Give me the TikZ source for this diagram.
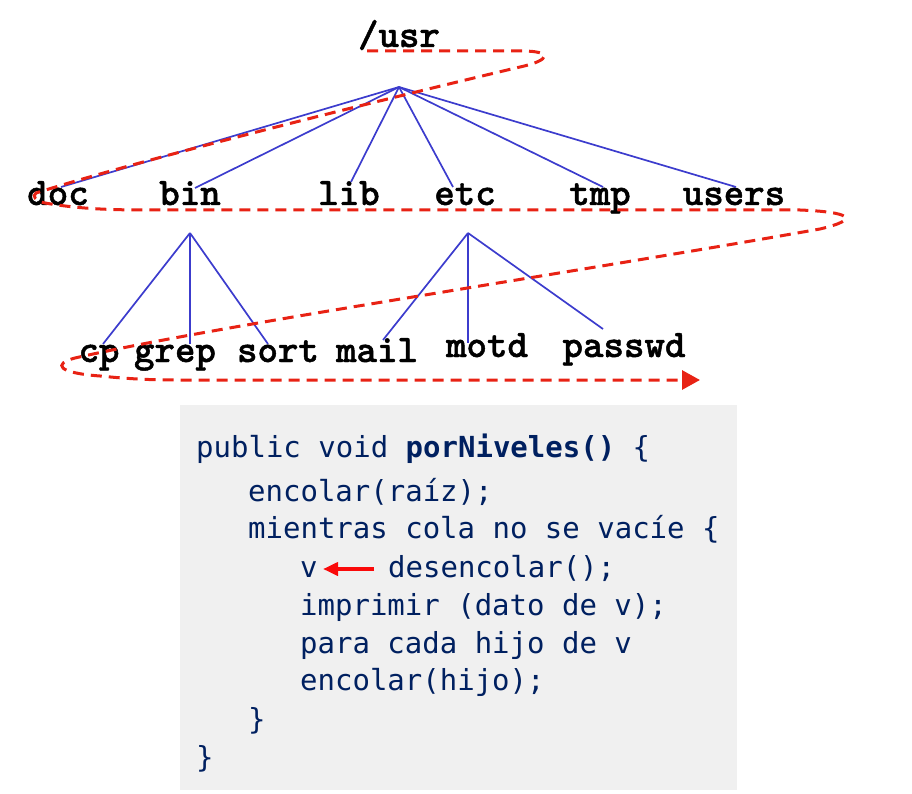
\documentclass[tikz,border=0pt]{standalone}
\usepackage{fontspec}
\newfontfamily\codefont{DejaVu Sans Mono}
\newfontfamily\treefont{lmmonolt10-bold.otf}[FakeBold=1.2]
\usetikzlibrary{arrows.meta}
\definecolor{treeblue}{RGB}{60,60,205}
\definecolor{pathred}{RGB}{232,34,20}
\definecolor{codeblue}{RGB}{0,32,96}
\definecolor{codebg}{RGB}{240,240,240}
\definecolor{arrred}{RGB}{250,10,10}
\begin{document}
\begin{tikzpicture}[x=1pt,y=-1pt,
  lbl/.style={anchor=base, inner sep=0pt, font=\fontsize{39}{39}\treefont},
  code/.style={anchor=base west, inner sep=0pt, text=codeblue, font=\fontsize{29}{29}\codefont},
  edge/.style={treeblue, line width=1.7pt},
  trav/.style={pathred, line width=3pt, dash pattern=on 11pt off 7pt},
  codearrow/.style={arrred, line width=4pt, -{Triangle[length=15pt,width=13pt]}}]
\useasboundingbox (0,0) rectangle (912,794);

% code background
\fill[codebg] (180,405) rectangle (737,790);

% tree labels
\node[lbl] (usr) at (399,47) {/usr};
\node[lbl] (doc) at (58,205) {doc};
\node[lbl] (bin) at (190,205) {bin};
\node[lbl] (lib) at (349,205) {lib};
\node[lbl] (etc) at (465,205) {etc};
\node[lbl] (tmp) at (600,205) {tmp};
\node[lbl] (users) at (734,205) {users};
\node[lbl] (cp) at (99,362) {cp};
\node[lbl] (grep) at (175,362) {grep};
\node[lbl] (sort) at (278,362) {sort};
\node[lbl] (mail) at (377,362) {mail};
\node[lbl] (motd) at (487,357) {motd};
\node[lbl] (passwd) at (624,357) {passwd};

% connector points
\coordinate (usrapex) at (399,87);
\coordinate (docend) at (61,187);
\coordinate (binend) at (195,188);
\coordinate (libend) at (351,182);
\coordinate (etcend) at (453,187);
\coordinate (tmpend) at (603,187);
\coordinate (usersend) at (736,187);
\coordinate (binapex) at (190,233);
\coordinate (cpend) at (103,344);
\coordinate (grepend) at (190,344);
\coordinate (sortend) at (268,344);
\coordinate (etcapex) at (468,233);
\coordinate (mailend) at (383,340);
\coordinate (motdend) at (468,343);
\coordinate (passwdend) at (603,329);

\foreach \e in {docend,binend,libend,etcend,tmpend,usersend}
  \draw[edge] (usrapex) -- (\e);
\foreach \e in {cpend,grepend,sortend}
  \draw[edge] (binapex) -- (\e);
\foreach \e in {mailend,motdend,passwdend}
  \draw[edge] (etcapex) -- (\e);

% level-order traversal path
\coordinate (tstart) at (367,51);
\coordinate (tend) at (700,380);
\draw[trav, -{Triangle[length=18pt,width=19pt]}] (tstart) -- (522,51)
  .. controls (552,51) and (552,60) .. (520,67)
  .. controls (380,100) and (140,160) .. (36,193)
  .. controls (32,196) and (35,201) .. (45,203)
  .. controls (80,209) and (110,210) .. (150,210)
  -- (800,210)
  .. controls (850,212) and (862,219) .. (820,229)
  .. controls (560,275) and (220,325) .. (75,358)
  .. controls (52,364) and (58,373) .. (100,376)
  .. controls (130,379) and (150,380) .. (180,380)
  -- (tend);

% code
\node[code] (l1) at (196,457) {public void \textbf{porNiveles()} \{};
\node[code] (l2) at (248,501) {encolar(raíz);};
\node[code] (l3) at (248,538) {mientras cola no se vacíe \{};
\node[code] (l4v) at (300,577) {v};
\node[code] (l4) at (388,577) {desencolar();};
\node[code] (l5) at (300,615) {imprimir (dato de v);};
\node[code] (l6) at (300,653) {para cada hijo de v};
\node[code] (l7) at (300,690) {encolar(hijo);};
\node[code] (l8) at (248,729) {\}};
\node[code] (l9) at (196,767) {\}};
\coordinate (atail) at (374,569);
\coordinate (ahead) at (323,569);
\draw[codearrow] (atail) -- (ahead);
\end{tikzpicture}
\end{document}
